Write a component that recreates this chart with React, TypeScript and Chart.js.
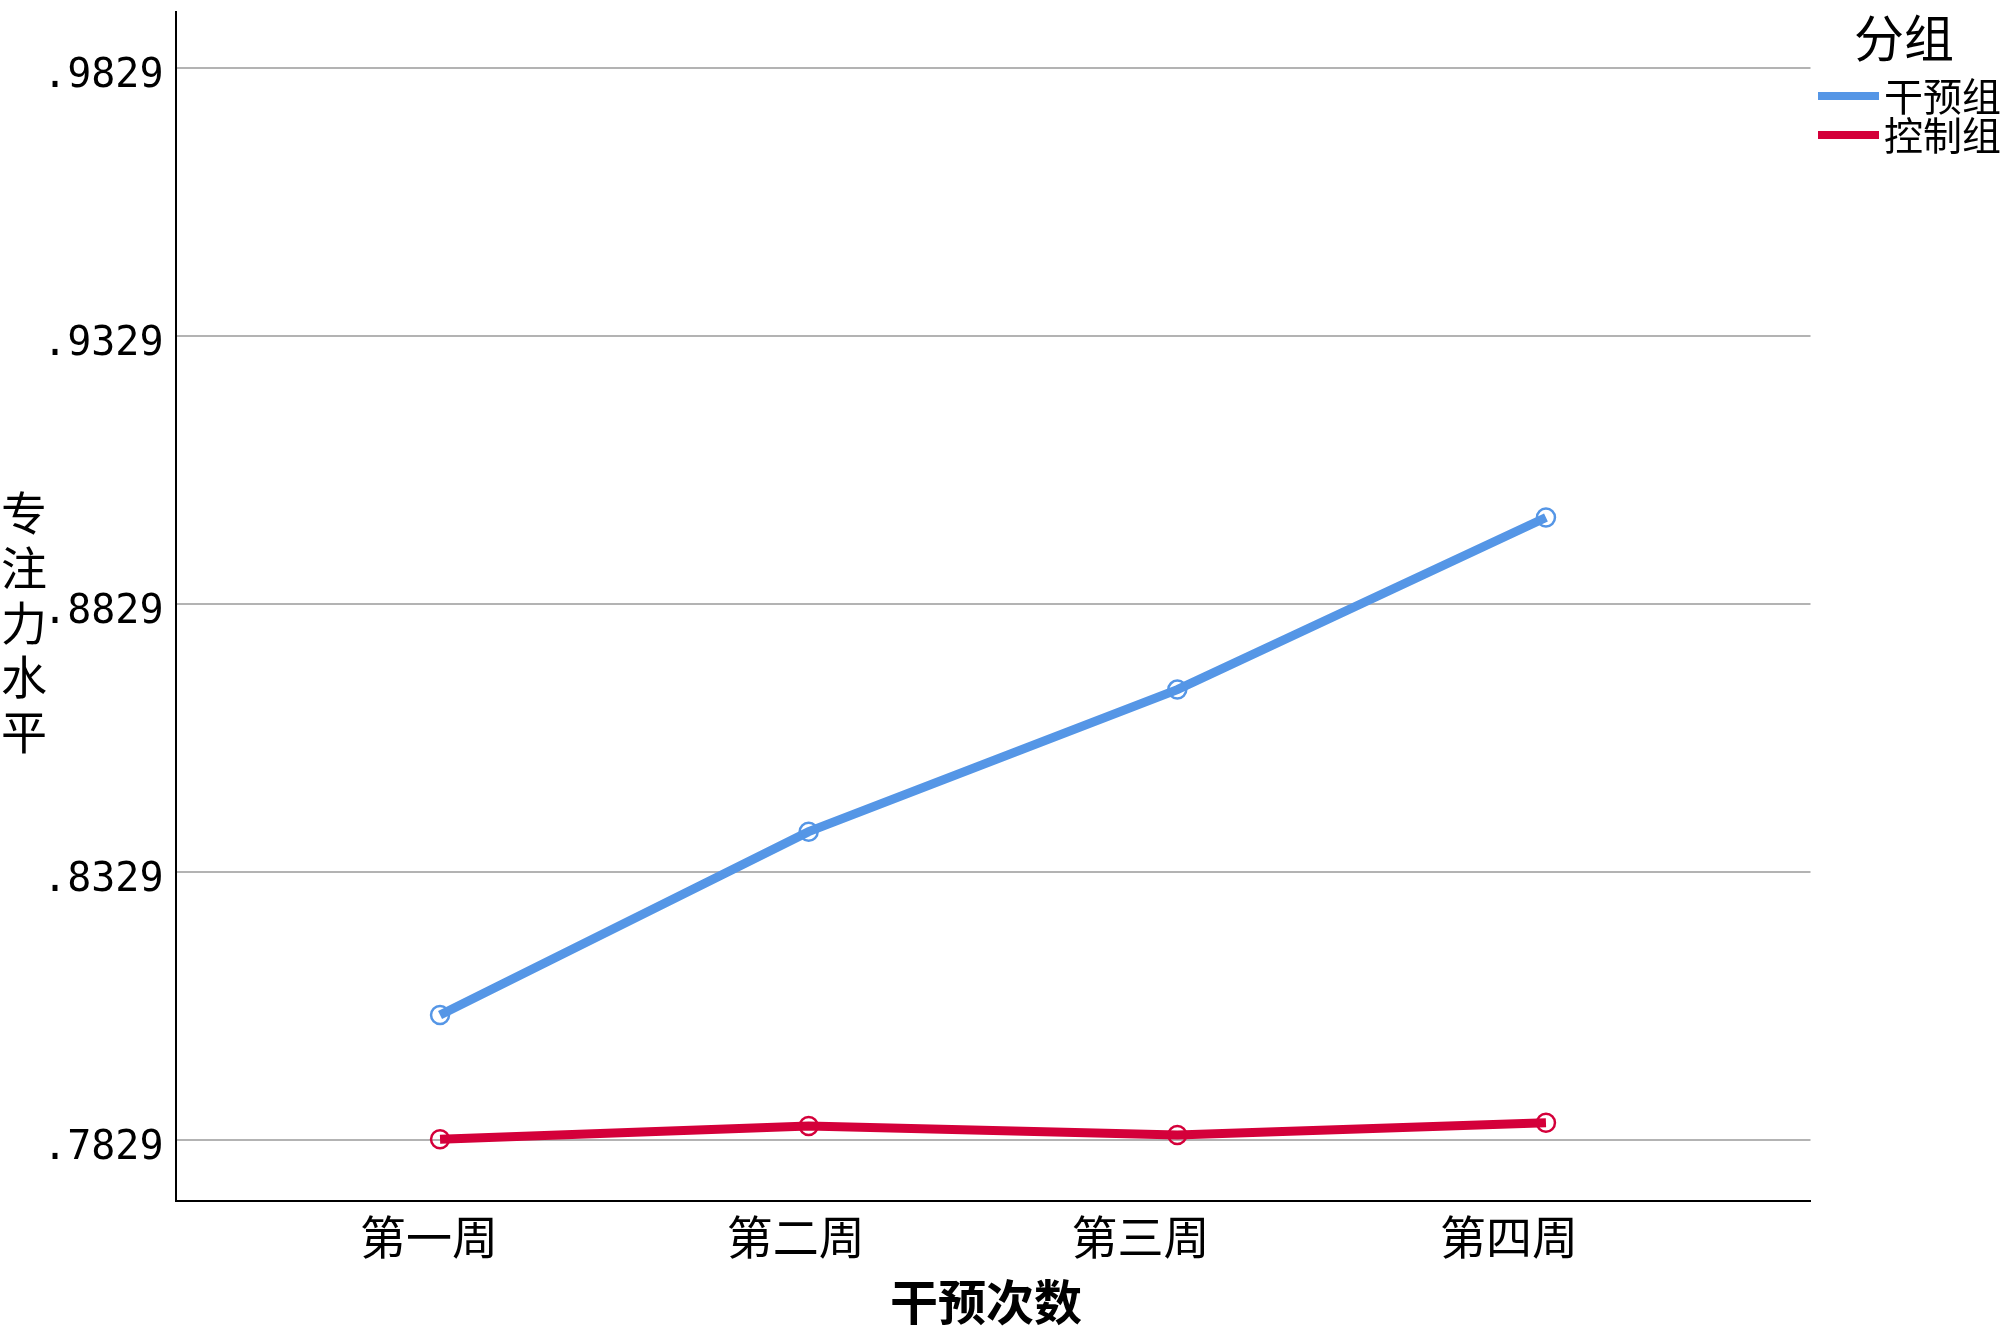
import React, { useEffect, useRef } from "react";
import { Chart, registerables } from "chart.js";

Chart.register(...registerables);

// ---- data ----
const categories = ["第一周", "第二周", "第三周", "第四周"];
const seriesNames = ["干预组", "控制组"];
const interventionValues = [0.8063, 0.8405, 0.867, 0.8991];
const controlValues = [0.7831, 0.7856, 0.7839, 0.7862];
const yTickValues = [0.7829, 0.8329, 0.8829, 0.9329, 0.9829];
const legendTitle = "分组";
const xTitle = "干预次数";
const yTitle = "专注力水平";

const seriesColors = ["#5596e6", "#d4003a"];
const CJK = '"Noto Sans CJK SC", "Noto Sans", sans-serif';
// small horizontal nudges of the category labels (in category units)
const xLabelNudge = [-0.03, -0.035, -0.1, -0.1];

const decorPlugin = {
  id: "decor",
  afterDraw(chart: any) {
    const ctx = chart.ctx as CanvasRenderingContext2D;
    const area = chart.chartArea;
    ctx.save();
    ctx.fillStyle = "#000";
    ctx.textBaseline = "middle";

    // x-axis title
    ctx.font = `bold 48px ${CJK}`;
    ctx.textAlign = "center";
    ctx.fillText(xTitle, (area.left + area.right) / 2 - 7, 1302);

    // y-axis title, stacked characters
    ctx.font = `46px ${CJK}`;
    const chars = Array.from(yTitle);
    chars.forEach((c, i) => {
      ctx.fillText(c, 24, 513 + i * 54.6);
    });

    // legend
    ctx.font = `50px ${CJK}`;
    ctx.textAlign = "center";
    ctx.fillText(legendTitle, 1904, 38);
    ctx.font = `39px ${CJK}`;
    ctx.textAlign = "left";
    chart.data.datasets.forEach((ds: any, i: number) => {
      const y = 96 + i * 39;
      ctx.strokeStyle = ds.borderColor;
      ctx.lineWidth = 8;
      ctx.lineCap = "butt";
      ctx.beginPath();
      ctx.moveTo(1818, y);
      ctx.lineTo(1879, y);
      ctx.stroke();
      ctx.fillText(ds.label, 1884, y);
    });
    ctx.restore();
  },
};

export default function App() {
  const ref = useRef<HTMLCanvasElement>(null);

  useEffect(() => {
    const canvas = ref.current!;
    const chart = new Chart(canvas, {
      type: "line",
      data: {
        datasets: [interventionValues, controlValues].map((vals, si) => ({
          label: seriesNames[si],
          data: vals.map((v, i) => ({ x: i, y: v })),
          borderColor: seriesColors[si],
          backgroundColor: seriesColors[si],
          borderWidth: 9,
          tension: 0,
          pointRadius: 9,
          pointBorderWidth: 2.5,
          pointBorderColor: seriesColors[si],
          pointBackgroundColor: "rgba(255,255,255,0)",
          fill: false,
        })),
      },
      options: {
        responsive: false,
        animation: false,
        devicePixelRatio: 1,
        layout: { padding: { left: 0, right: 189.5, top: 9, bottom: 0 } },
        plugins: {
          legend: { display: false },
          tooltip: { enabled: false },
        },
        scales: {
          x: {
            type: "linear",
            min: -0.7176,
            max: 3.7176,
            afterFit: (s: any) => {
              s.height = 140;
              s.paddingLeft = 0;
              s.paddingRight = 0;
            },
            afterBuildTicks: (ax: any) => {
              ax.ticks = categories.map((_, i) => ({ value: i + xLabelNudge[i] }));
            },
            ticks: {
              autoSkip: false,
              maxRotation: 0,
              padding: 8,
              color: "#000",
              font: { family: CJK, size: 46 },
              callback: (v: any) => categories[Math.round(Number(v))] ?? "",
            },
            grid: { display: false, drawTicks: false },
            border: { display: true, color: "#000", width: 2 },
          },
          y: {
            type: "linear",
            min: 0.7716,
            max: 0.9935,
            afterFit: (s: any) => {
              s.width = 175.5;
              s.paddingTop = 0;
              s.paddingBottom = 0;
            },
            afterBuildTicks: (ax: any) => {
              ax.ticks = yTickValues.map((v) => ({ value: v }));
            },
            ticks: {
              padding: 12,
              labelOffset: 8,
              color: "#000",
              font: { family: '"DejaVu Sans Mono", "Liberation Mono", monospace', size: 40 },
              callback: (v: any) => "." + Number(v).toFixed(4).split(".")[1],
            },
            grid: { color: "#b3b3b3", lineWidth: 2, drawTicks: false },
            border: { display: true, color: "#000", width: 2 },
          },
        },
      },
      plugins: [decorPlugin],
    });
    return () => chart.destroy();
  }, []);

  return (
    <div
      style={{
        position: "fixed",
        left: 0,
        top: 0,
        width: 2000,
        height: 1341,
        background: "#fff",
      }}
    >
      <canvas
        ref={ref}
        width={2000}
        height={1341}
        style={{ display: "block", width: 2000, height: 1341 }}
      />
    </div>
  );
}
